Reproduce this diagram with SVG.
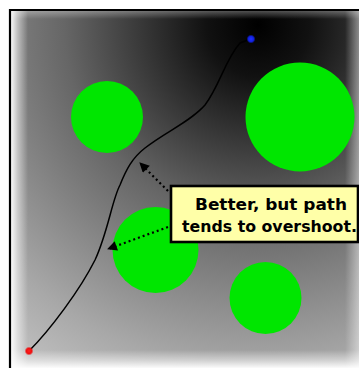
<svg xmlns="http://www.w3.org/2000/svg" width="359" height="368" viewBox="0 0 359 368">
  <defs>
    <radialGradient id="bg" gradientUnits="userSpaceOnUse" cx="258" cy="25" r="430">
      <stop offset="0" stop-color="#000"/>
      <stop offset="0.12" stop-color="#111"/>
      <stop offset="0.45" stop-color="#666"/>
      <stop offset="0.8" stop-color="#a8a8a8"/>
      <stop offset="1" stop-color="#c8c8c8"/>
    </radialGradient>
    <linearGradient id="glowL" x1="0" y1="0" x2="1" y2="0">
      <stop offset="0" stop-color="#fff" stop-opacity="0.95"/>
      <stop offset="0.4" stop-color="#fff" stop-opacity="0.5"/>
      <stop offset="1" stop-color="#fff" stop-opacity="0"/>
    </linearGradient>
    <linearGradient id="glowB" x1="0" y1="1" x2="0" y2="0">
      <stop offset="0" stop-color="#fff" stop-opacity="0.95"/>
      <stop offset="0.4" stop-color="#fff" stop-opacity="0.5"/>
      <stop offset="1" stop-color="#fff" stop-opacity="0"/>
    </linearGradient>
    <linearGradient id="glowR" x1="1" y1="0" x2="0" y2="0">
      <stop offset="0" stop-color="#fff" stop-opacity="0.45"/>
      <stop offset="1" stop-color="#fff" stop-opacity="0"/>
    </linearGradient>
    <linearGradient id="glowT" x1="0" y1="0" x2="0" y2="1">
      <stop offset="0" stop-color="#fff" stop-opacity="0.3"/>
      <stop offset="1" stop-color="#fff" stop-opacity="0"/>
    </linearGradient>
    <marker id="ah" viewBox="0 0 10 10" refX="9" refY="5" markerWidth="5" markerHeight="4.5" orient="auto" markerUnits="strokeWidth">
      <path d="M0,0 L10,5 L0,10 z" fill="#000"/>
    </marker>
    <radialGradient id="blue">
      <stop offset="0" stop-color="#2233ff"/>
      <stop offset="0.6" stop-color="#1020e0"/>
      <stop offset="1" stop-color="#1020e0" stop-opacity="0"/>
    </radialGradient>
    <radialGradient id="red">
      <stop offset="0" stop-color="#ff2020"/>
      <stop offset="0.6" stop-color="#ee1010"/>
      <stop offset="1" stop-color="#ee1010" stop-opacity="0"/>
    </radialGradient>
  </defs>
  <style>
    .obs { fill: #00e600; }
    .lbl { font-family: "DejaVu Sans", "Liberation Sans", sans-serif; font-weight: bold; font-size: 15.5px; fill: #000; }
    .dot { fill: none; stroke: #000; stroke-width: 2.2; stroke-dasharray: 2 3; }
  </style>
  <rect x="0" y="0" width="359" height="368" fill="#fff"/>
  <g id="field">
    <rect x="11" y="11" width="348" height="357" fill="url(#bg)"/>
    <rect x="11" y="11" width="17" height="357" fill="url(#glowL)"/>
    <rect x="11" y="350" width="348" height="18" fill="url(#glowB)"/>
    <rect x="345" y="11" width="14" height="357" fill="url(#glowR)"/>
    <rect x="11" y="11" width="348" height="8" fill="url(#glowT)"/>
    <path d="M10,368 V10 H359" fill="none" stroke="#000" stroke-width="2.2"/>
  </g>
  <g id="obstacle-1"><circle class="obs" cx="107" cy="117" r="36"/></g>
  <g id="obstacle-2"><circle class="obs" cx="300" cy="117" r="54.5"/></g>
  <g id="obstacle-3"><circle class="obs" cx="155.5" cy="250" r="43"/></g>
  <g id="obstacle-4"><circle class="obs" cx="265.5" cy="298" r="36"/></g>
  <g id="connectors">
    <path id="robot-path" d="M29,351 C50,330 80,290 95,260 C108,232 112,200 120,185 C126,170 132,158 145,148 C165,132 190,122 205,105 C220,85 225,60 240,43 L248,40" fill="none" stroke="#000" stroke-width="1.5"/>
    <line class="dot" x1="168" y1="191" x2="140" y2="163" marker-end="url(#ah)"/>
    <line class="dot" x1="168" y1="227" x2="108" y2="249" marker-end="url(#ah)"/>
  </g>
  <g id="goal"><circle cx="251" cy="39" r="4.5" fill="url(#blue)"/></g>
  <g id="start"><circle cx="29" cy="351" r="4.5" fill="url(#red)"/></g>
  <g id="callout">
    <rect x="171" y="186" width="187" height="56" fill="#ffffa8" stroke="#000" stroke-width="2.6"/>
    <text class="lbl" x="271" y="210" text-anchor="middle" textLength="152" lengthAdjust="spacingAndGlyphs">Better, but path</text>
    <text class="lbl" x="269.5" y="232" text-anchor="middle" textLength="175" lengthAdjust="spacingAndGlyphs">tends to overshoot.</text>
  </g>
</svg>
